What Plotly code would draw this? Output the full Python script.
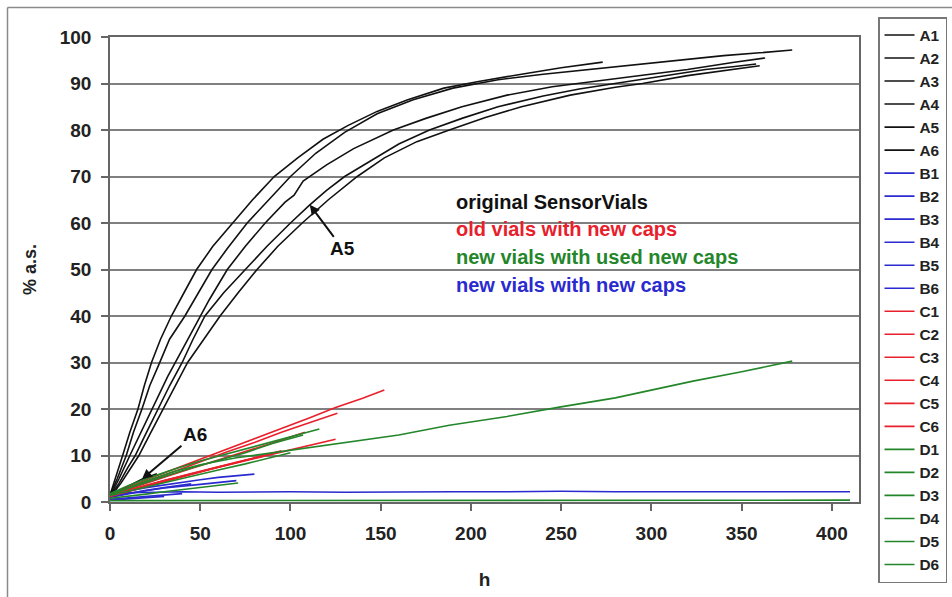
import plotly.graph_objects as go

# ---- measured series: hours (h) and % of air saturation (% a.s.) ----
# original SensorVials (black)
A1_h = [0, 4, 9, 13, 17.7, 22, 27, 33, 41.5, 49, 56.5, 65, 76, 88, 100, 114, 130, 148, 168, 190, 215, 240, 265, 290, 315, 340, 360, 378]
A1_v = [1.5, 5, 10, 15, 20, 25, 29.5, 35, 40, 45, 50, 54.5, 60, 65, 70, 75, 79.5, 83.5, 86.5, 89, 90.8, 92, 93, 94, 95, 96, 96.6, 97.2]
A2_h = [0, 3, 7, 11, 15.5, 19, 23, 28, 34, 41, 48, 57, 68, 79, 91, 104, 118, 132, 148, 165, 185, 205, 228, 250, 273]
A2_v = [1.5, 5, 10, 15, 20, 25, 30, 35, 40, 45, 50, 55, 60, 65, 70, 74, 78, 81, 84, 86.5, 89, 90.5, 92, 93.4, 94.6]
A3_h = [0, 5, 11, 16, 21, 26, 32, 39, 46, 55, 65, 75, 86, 93, 97, 102, 107, 120, 135, 157, 175, 195, 220, 245, 270, 295, 320, 345, 363]
A3_v = [1.2, 5, 10, 14, 18, 22, 27, 32, 37, 43.5, 50, 55, 60, 63, 64.5, 66, 69, 72.5, 76, 80, 82.5, 85, 87.5, 89.3, 90.5, 91.8, 93, 94.5, 95.5]
A4_h = [0, 6, 11, 16, 22, 29.4, 36, 43, 52, 61, 71, 81.5, 93, 106.5, 121, 137, 152, 170, 188, 208, 228, 255, 280, 295, 320, 340, 360]
A4_v = [1, 4, 7, 10, 14.5, 20, 25, 30, 35, 40, 45, 50, 55, 60, 65, 70, 74, 77.5, 80, 82.7, 85, 87.5, 89.2, 90, 91.7, 92.8, 93.8]
A5_h = [0, 5, 10, 14, 19, 26.6, 33, 40, 46, 52.6, 63, 75, 87, 100, 110.7, 120, 130, 145, 160, 177, 195, 215, 240, 260, 280, 305, 330, 345, 358]
A5_v = [1.2, 4, 7.5, 10, 14, 20, 25, 30, 35, 40, 45, 50, 55, 60, 63.9, 67, 70, 73.5, 77, 80, 82.5, 85, 87.3, 88.8, 90, 91.5, 93, 93.6, 94.2]
A6_h = [0, 5, 10, 17.7, 22, 26]
A6_v = [1.3, 2.4, 3.4, 4.9, 5.6, 6.1]

# new vials with new caps (blue)
B1_h = [0, 10, 20, 30, 40, 50, 60, 70, 80]
B1_v = [1.5, 2.4, 3.1, 3.7, 4.2, 4.8, 5.3, 5.7, 6.0]
B2_h = [0, 5, 10, 20, 40, 60, 80, 100, 130, 160, 190, 220, 250, 280, 310, 340, 370, 395, 410]
B2_v = [1.2, 1.8, 2.0, 2.1, 2.2, 2.1, 2.2, 2.2, 2.1, 2.2, 2.2, 2.2, 2.3, 2.2, 2.2, 2.3, 2.2, 2.3, 2.2]
B3_h = [0, 10, 20, 30, 40]
B3_v = [0.6, 0.9, 1.2, 1.5, 1.8]
B4_h = [0, 10, 20, 30, 45]
B4_v = [1.0, 1.8, 2.5, 3.1, 3.9]
B5_h = [0, 10, 20, 30]
B5_v = [0.4, 0.7, 1.0, 1.2]
B6_h = [0, 15, 30, 50, 70]
B6_v = [1.3, 2.2, 3.0, 3.8, 4.6]

# old vials with new caps (red)
C1_h = [0, 10, 20, 35, 50, 65, 80, 95, 110, 125, 140, 152]
C1_v = [1.5, 3.2, 4.8, 7.0, 9.2, 11.3, 13.5, 15.8, 18.0, 20.3, 22.3, 24.1]
C2_h = [0, 10, 20, 35, 50, 65, 80, 95, 110, 126]
C2_v = [1.5, 2.8, 4.3, 6.5, 8.7, 10.8, 12.8, 15.0, 17.0, 19.1]
C3_h = [0, 15, 30, 45, 60, 75, 90, 105, 115, 125]
C3_v = [1.3, 3.0, 4.6, 6.1, 7.6, 9.0, 10.3, 11.7, 12.5, 13.5]
C4_h = [0, 15, 30, 45, 60, 75, 90, 108]
C4_v = [1.4, 3.4, 5.3, 7.2, 9.0, 10.8, 12.7, 15.0]
C5_h = [0, 15, 30, 45, 60, 75, 95]
C5_v = [1.2, 2.8, 4.4, 6.0, 7.5, 9.0, 11.0]
C6_h = [0, 10, 20, 30, 40, 55, 70, 85]
C6_v = [1.5, 2.6, 3.6, 4.6, 5.6, 7.0, 8.4, 9.8]

# new vials with used new caps (green)
D1_h = [0, 10, 20, 35, 50, 70, 90, 110, 130, 160, 188, 220, 249, 280, 323, 350, 378]
D1_v = [1.5, 3.0, 4.5, 6.5, 8.0, 9.5, 10.6, 11.7, 12.8, 14.4, 16.5, 18.4, 20.4, 22.4, 26.0, 28.0, 30.3]
D2_h = [0, 10, 20, 35, 50, 65, 80, 95, 105, 116]
D2_v = [1.8, 3.5, 5.0, 7.0, 8.8, 10.4, 12.0, 13.6, 14.6, 15.7]
D3_h = [0, 10, 20, 30, 40, 50, 60, 71]
D3_v = [0.8, 1.2, 1.7, 2.2, 2.7, 3.2, 3.6, 4.1]
D4_h = [0, 20, 40, 60, 80, 100, 130, 160, 190, 220, 250, 280, 310, 340, 370, 395, 410]
D4_v = [0.3, 0.3, 0.4, 0.3, 0.3, 0.4, 0.3, 0.3, 0.4, 0.3, 0.3, 0.4, 0.3, 0.3, 0.4, 0.3, 0.4]
D5_h = [0, 15, 30, 45, 60, 75, 90, 107]
D5_v = [1.6, 3.6, 5.5, 7.3, 9.0, 10.6, 12.6, 14.4]
D6_h = [0, 15, 30, 45, 60, 75, 90, 100]
D6_v = [1.4, 2.8, 4.2, 5.6, 6.9, 8.2, 9.6, 10.6]

x_ticks = [0, 50, 100, 150, 200, 250, 300, 350, 400]
y_ticks = [0, 10, 20, 30, 40, 50, 60, 70, 80, 90, 100]

group_labels = ["original SensorVials", "old vials with new caps",
                "new vials with used new caps", "new vials with new caps"]

BLACK = "#111111"
BLUE = "#2a2ad0"
RED = "#e8202c"
GREEN = "#23862a"

series = [
    ("A1", A1_h, A1_v, BLACK), ("A2", A2_h, A2_v, BLACK), ("A3", A3_h, A3_v, BLACK),
    ("A4", A4_h, A4_v, BLACK), ("A5", A5_h, A5_v, BLACK), ("A6", A6_h, A6_v, BLACK),
    ("B1", B1_h, B1_v, BLUE), ("B2", B2_h, B2_v, BLUE), ("B3", B3_h, B3_v, BLUE),
    ("B4", B4_h, B4_v, BLUE), ("B5", B5_h, B5_v, BLUE), ("B6", B6_h, B6_v, BLUE),
    ("C1", C1_h, C1_v, RED), ("C2", C2_h, C2_v, RED), ("C3", C3_h, C3_v, RED),
    ("C4", C4_h, C4_v, RED), ("C5", C5_h, C5_v, RED), ("C6", C6_h, C6_v, RED),
    ("D1", D1_h, D1_v, GREEN), ("D2", D2_h, D2_v, GREEN), ("D3", D3_h, D3_v, GREEN),
    ("D4", D4_h, D4_v, GREEN), ("D5", D5_h, D5_v, GREEN), ("D6", D6_h, D6_v, GREEN),
]

FONT = "Liberation Sans, Arial, sans-serif"
W, H = 952, 597
L, R, T, B = 110, 93, 37, 95
PW, PH = W - L - R, H - T - B


def px_x(p):
    return (p - L) / PW


def px_y(p):
    return (H - B - p) / PH


fig = go.Figure()
for name, hx, vy, col in series:
    fig.add_trace(go.Scatter(x=hx, y=vy, name=name, mode="lines",
                             line=dict(color=col, width=1.6)))

# white panel behind the group labels (hides the gridlines there)
fig.add_shape(type="rect", xref="paper", yref="paper",
              x0=px_x(450), x1=px_x(750), y0=px_y(300), y1=px_y(188),
              fillcolor="white", line=dict(width=0), layer="between")

label_colors = [BLACK, RED, GREEN, BLUE]
label_y = [202, 229, 257, 285]
for txt, col, yy in zip(group_labels, label_colors, label_y):
    fig.add_annotation(text=txt, xref="paper", yref="paper",
                       x=px_x(454), y=px_y(yy), xanchor="left", yanchor="middle",
                       showarrow=False,
                       font=dict(family=FONT, size=20, color=col, weight="bold"))

# arrow labels
arrow_font = dict(family=FONT, size=19, color=BLACK, weight="bold")
fig.add_annotation(text="A5", x=A5_h[14], y=A5_v[14], ax=33, ay=44,
                   showarrow=True, arrowhead=2, arrowsize=1, arrowwidth=2,
                   arrowcolor=BLACK, font=arrow_font)
fig.add_annotation(text="A6", x=A6_h[3], y=A6_v[3], ax=53, ay=-45,
                   showarrow=True, arrowhead=2, arrowsize=1, arrowwidth=2,
                   arrowcolor=BLACK, font=arrow_font)

# outer frame (left and top edges)
frame = dict(color="#8a8a8a", width=1.5)
fig.add_shape(type="line", xref="paper", yref="paper",
              x0=px_x(7.5), x1=px_x(7.5), y0=px_y(7.5), y1=px_y(600), line=frame)
fig.add_shape(type="line", xref="paper", yref="paper",
              x0=px_x(7.5), x1=px_x(955), y0=px_y(7.5), y1=px_y(7.5), line=frame)

tick_font = dict(family=FONT, size=19, color="#222222", weight="bold")
fig.update_layout(
    width=W, height=H,
    margin=dict(l=L, r=R, t=T, b=B, pad=0, autoexpand=False),
    paper_bgcolor="white", plot_bgcolor="white",
    showlegend=True,
    legend=dict(x=px_x(878), y=px_y(17), xanchor="left", yanchor="top",
                bgcolor="white", bordercolor="#777777", borderwidth=1.5,
                font=dict(family=FONT, size=15.4, color="#222222", weight="bold"),
                itemwidth=30, tracegroupgap=0, maxheight=595),
    xaxis=dict(range=[0, 415], tickvals=x_ticks, ticks="outside", ticklen=7,
               tickwidth=1.5, tickcolor="#666666", showline=True, linecolor="#666666",
               linewidth=1.5, mirror=True, showgrid=False, zeroline=False,
               tickfont=tick_font, ticklabelstandoff=6, automargin=False,
               title=dict(text="h", font=dict(family=FONT, size=19, color="#222222", weight="bold"),
                          standoff=30)),
    yaxis=dict(range=[0, 100], tickvals=y_ticks, ticks="outside", ticklen=7,
               tickwidth=1.5, tickcolor="#666666", showline=True, linecolor="#666666",
               linewidth=1.5, mirror=True, showgrid=True, gridcolor="#808080",
               gridwidth=1.5, zeroline=False, tickfont=tick_font,
               ticklabelstandoff=6, automargin=False,
               title=dict(text="% a.s.", font=dict(family=FONT, size=18, color="#222222", weight="bold"),
                          standoff=18)),
)

fig.write_html("out.html")
